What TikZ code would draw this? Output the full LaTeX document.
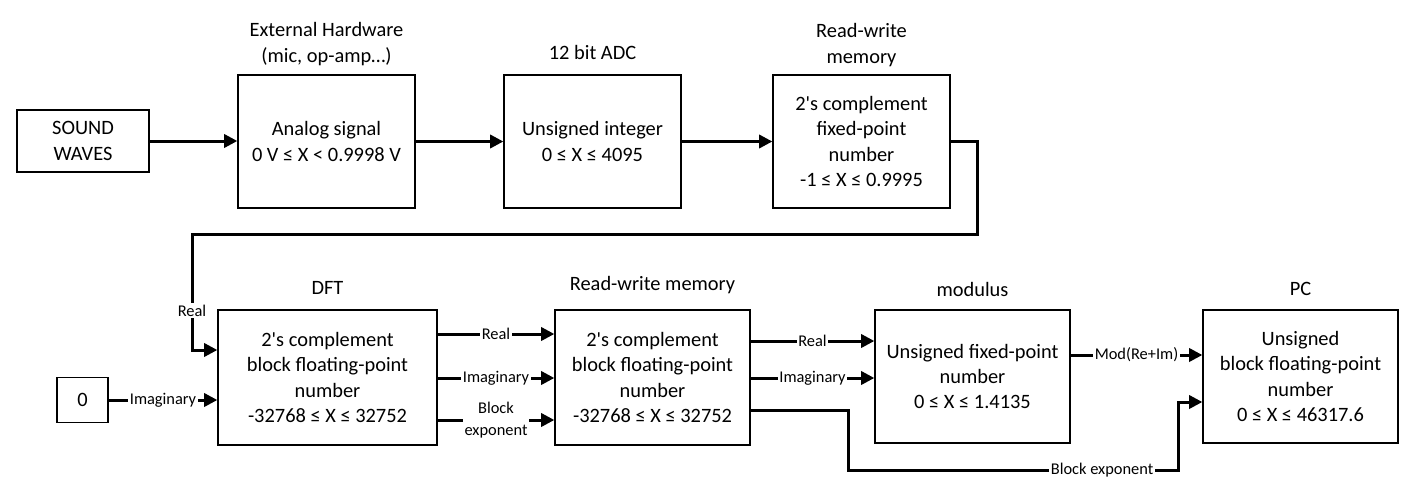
\documentclass[tikz,border=0pt]{standalone}
\usepackage{fontspec}
\setmainfont{Carlito}[Ligatures=TeXOff]
\usetikzlibrary{positioning,arrows.meta,calc}

\begin{document}
\begin{tikzpicture}[x=0.75pt,y=-0.75pt,
  blk/.style={draw,line width=1pt,align=center,inner sep=0pt,font=\fontsize{15.3}{19}\selectfont},
  ttl/.style={align=center,font=\fontsize{15.3}{19.5}\selectfont},
  lbl/.style={fill=white,inner sep=1.2pt,align=center,font=\fontsize{12.3}{16.5}\selectfont},
  arr/.style={line width=2.25pt,-{Triangle[length=10pt,width=10pt]}}]
  \useasboundingbox (0,0) rectangle (1427,492);
  % top row
  \node[blk,minimum width=99pt,minimum height=46.5pt] (snd) at (83,141) {SOUND\\WAVES};
  \node[blk,minimum width=132.75pt,minimum height=99.75pt] (ana) at (326.5,141.5) {Analog signal\\0 V ≤ X < 0.9998 V};
  \node[blk,minimum width=132.75pt,minimum height=99.75pt] (adc) at (592.5,141.5) {Unsigned integer\\0 ≤ X ≤ 4095};
  \node[blk,minimum width=132.75pt,minimum height=99.75pt] (mem) at (861.5,141.5) {2's complement\\fixed-point\\number\\-1 ≤ X ≤ 0.9995};
  \node[ttl] (anat) at (326.5,44) {External Hardware\\(mic, op-amp…)};
  \node[ttl] (adct) at (592.5,52) {12 bit ADC};
  \node[ttl] (memt) at (861.5,45.5) {Read-write\\memory};
  % bottom row
  \node[blk,minimum width=38.25pt,minimum height=33.75pt] (zero) at (82.5,400) {0};
  \node[blk,minimum width=164.25pt,minimum height=101.25pt] (dft) at (327.5,377.5) {2's complement\\block floating-point\\number\\-32768 ≤ X ≤ 32752};
  \node[blk,minimum width=146.25pt,minimum height=101.25pt] (mem2) at (652.5,377.5) {2's complement\\block floating-point\\number\\-32768 ≤ X ≤ 32752};
  \node[blk,minimum width=146.25pt,minimum height=99.75pt] (mod) at (972.5,376.5) {Unsigned fixed-point\\number\\0 ≤ X ≤ 1.4135};
  \node[blk,minimum width=146.25pt,minimum height=99.75pt] (pc) at (1300.5,376.5) {Unsigned\\block floating-point\\number\\0 ≤ X ≤ 46317.6};
  \node[ttl] (dftt) at (327.5,288) {DFT};
  \node[ttl] (mem2t) at (652.5,285) {Read-write memory};
  \node[ttl] (modt) at (972.5,289) {modulus};
  \node[ttl] (pct) at (1300.5,289) {PC};
  % connectors
  \draw[arr] (snd.east) -- (snd.east -| ana.west);
  \draw[arr] (ana.east) -- (adc.west);
  \draw[arr] (adc.east) -- (mem.west);
  \coordinate (wr) at (977,234);
  \coordinate (wl) at (192,234);
  \draw[arr] (mem.east) -| (wr) -- (wl) |- ($(dft.west)+(0,-27.5)$) node[lbl,pos=0.33]{Real};
  \draw[arr] (zero.east) -- (zero.east -| dft.west) node[lbl,midway]{Imaginary};
  \draw[arr] ($(dft.east)+(0,-43.5)$) -- ($(mem2.west)+(0,-43.5)$) node[lbl,midway]{Real};
  \draw[arr] ($(dft.east)+(0,0.5)$) -- ($(mem2.west)+(0,0.5)$) node[lbl,midway]{Imaginary};
  \draw[arr] ($(dft.east)+(0,42.5)$) -- ($(mem2.west)+(0,42.5)$) node[lbl,midway]{Block\\exponent};
  \draw[arr] ($(mem2.east)+(0,-36.5)$) -- ($(mod.west)+(0,-35.5)$) node[lbl,midway]{Real};
  \draw[arr] ($(mem2.east)+(0,0.5)$) -- ($(mod.west)+(0,1.5)$) node[lbl,midway]{Imaginary};
  \draw[arr] ($(mod.east)+(0,-21.5)$) -- ($(pc.west)+(0,-21.5)$) node[lbl,midway]{Mod(Re+Im)};
  \coordinate (bl) at (848,470);
  \coordinate (br) at (1178,470);
  \draw[arr] ($(mem2.east)+(0,32.5)$) -| (bl) -- (br) node[lbl,pos=0.77]{Block exponent} |- ($(pc.west)+(0,25.5)$);
\end{tikzpicture}
\end{document}
